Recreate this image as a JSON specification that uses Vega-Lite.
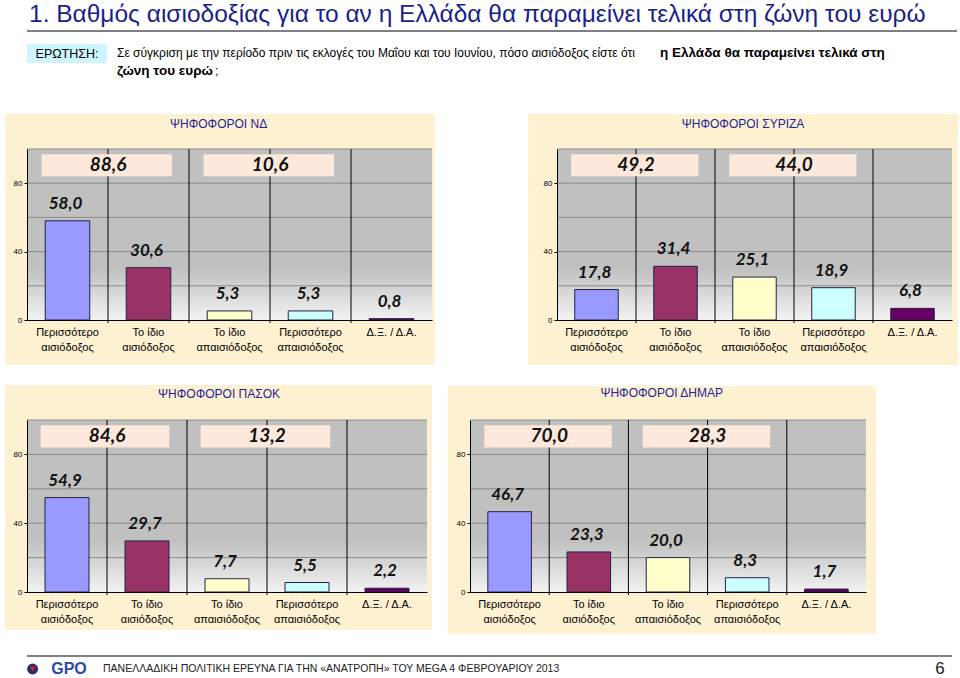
{
  "$schema": "https://vega.github.io/schema/vega-lite/v6.json",
  "padding": {"left": 5, "top": 1, "right": 0, "bottom": 0},
  "background": "white",
  "config": {"view": {"stroke": null}, "font": "Liberation Sans", "axisY": {"labelOverlap": false, "labelBound": false}},
  "datasets": {
    "bars": [
      {"panel": "ΝΔ", "cat": "Περισσότερο αισιόδοξος", "value": 58.0},
      {"panel": "ΝΔ", "cat": "Το ίδιο αισιόδοξος", "value": 30.6},
      {"panel": "ΝΔ", "cat": "Το ίδιο απαισιόδοξος", "value": 5.3},
      {"panel": "ΝΔ", "cat": "Περισσότερο απαισιόδοξος", "value": 5.3},
      {"panel": "ΝΔ", "cat": "Δ.Ξ. / Δ.Α.", "value": 0.8},
      {"panel": "ΣΥΡΙΖΑ", "cat": "Περισσότερο αισιόδοξος", "value": 17.8},
      {"panel": "ΣΥΡΙΖΑ", "cat": "Το ίδιο αισιόδοξος", "value": 31.4},
      {"panel": "ΣΥΡΙΖΑ", "cat": "Το ίδιο απαισιόδοξος", "value": 25.1},
      {"panel": "ΣΥΡΙΖΑ", "cat": "Περισσότερο απαισιόδοξος", "value": 18.9},
      {"panel": "ΣΥΡΙΖΑ", "cat": "Δ.Ξ. / Δ.Α.", "value": 6.8},
      {"panel": "ΠΑΣΟΚ", "cat": "Περισσότερο αισιόδοξος", "value": 54.9},
      {"panel": "ΠΑΣΟΚ", "cat": "Το ίδιο αισιόδοξος", "value": 29.7},
      {"panel": "ΠΑΣΟΚ", "cat": "Το ίδιο απαισιόδοξος", "value": 7.7},
      {"panel": "ΠΑΣΟΚ", "cat": "Περισσότερο απαισιόδοξος", "value": 5.5},
      {"panel": "ΠΑΣΟΚ", "cat": "Δ.Ξ. / Δ.Α.", "value": 2.2},
      {"panel": "ΔΗΜΑΡ", "cat": "Περισσότερο αισιόδοξος", "value": 46.7},
      {"panel": "ΔΗΜΑΡ", "cat": "Το ίδιο αισιόδοξος", "value": 23.3},
      {"panel": "ΔΗΜΑΡ", "cat": "Το ίδιο απαισιόδοξος", "value": 20.0},
      {"panel": "ΔΗΜΑΡ", "cat": "Περισσότερο απαισιόδοξος", "value": 8.3},
      {"panel": "ΔΗΜΑΡ", "cat": "Δ.Ξ. / Δ.Α.", "value": 1.7}
    ],
    "totals": [
      {"panel": "ΝΔ", "from": "Περισσότερο αισιόδοξος", "to": "Το ίδιο αισιόδοξος", "total": 88.6},
      {"panel": "ΝΔ", "from": "Το ίδιο απαισιόδοξος", "to": "Περισσότερο απαισιόδοξος", "total": 10.6},
      {"panel": "ΣΥΡΙΖΑ", "from": "Περισσότερο αισιόδοξος", "to": "Το ίδιο αισιόδοξος", "total": 49.2},
      {"panel": "ΣΥΡΙΖΑ", "from": "Το ίδιο απαισιόδοξος", "to": "Περισσότερο απαισιόδοξος", "total": 44.0},
      {"panel": "ΠΑΣΟΚ", "from": "Περισσότερο αισιόδοξος", "to": "Το ίδιο αισιόδοξος", "total": 84.6},
      {"panel": "ΠΑΣΟΚ", "from": "Το ίδιο απαισιόδοξος", "to": "Περισσότερο απαισιόδοξος", "total": 13.2},
      {"panel": "ΔΗΜΑΡ", "from": "Περισσότερο αισιόδοξος", "to": "Το ίδιο αισιόδοξος", "total": 70.0},
      {"panel": "ΔΗΜΑΡ", "from": "Το ίδιο απαισιόδοξος", "to": "Περισσότερο απαισιόδοξος", "total": 28.3}
    ],
    "grid": [{"tick": 20}, {"tick": 40}, {"tick": 60}, {"tick": 80}, {"tick": 100}]
  },
  "concat": [
    {
      "concat": [
        {
          "concat": [
            {
              "width": 930, "height": 1,
              "title": {"text": "1.  Βαθμός αισιοδοξίας για το αν η Ελλάδα θα παραμείνει τελικά στη ζώνη του ευρώ", "anchor": "start", "fontSize": 24.5, "fontWeight": "normal", "color": "#1a1f8c", "offset": 3, "dx": 3},
              "data": {"values": [{"rule": "underline"}]},
              "mark": {"type": "rule", "color": "#7f7f7f", "strokeWidth": 2},
              "encoding": {"y": {"datum": 0, "type": "quantitative", "scale": {"domain": [0, 1]}, "axis": null}}
            },
            {
              "hconcat": [
                {
                  "width": 80, "height": 19,
                  "layer": [
                    {"data": {"values": [{"label": "ΕΡΩΤΗΣΗ:"}]}, "mark": {"type": "rect", "fill": "#ccf5ff"},
                     "encoding": {"x": {"datum": 0, "type": "quantitative", "scale": {"domain": [0, 1]}, "axis": null}, "x2": {"datum": 1}, "y": {"datum": 0, "type": "quantitative", "scale": {"domain": [0, 1]}, "axis": null}, "y2": {"datum": 1}}},
                    {"data": {"values": [{"label": "ΕΡΩΤΗΣΗ:"}]}, "mark": {"type": "text", "fontSize": 12.5, "color": "#000", "baseline": "middle"},
                     "encoding": {"x": {"datum": 0.5, "type": "quantitative"}, "y": {"datum": 0.5, "type": "quantitative"}, "text": {"field": "label"}}}
                  ]
                },
                {
                  "width": 830, "height": 36,
                  "layer": [
                    {"data": {"values": [{"line": "1", "text": "Σε σύγκριση με την περίοδο πριν τις εκλογές του Μαΐου και του Ιουνίου, πόσο αισιόδοξος είστε ότι"}]},
                     "mark": {"type": "text", "align": "left", "baseline": "middle", "fontSize": 12, "color": "#000"},
                     "encoding": {"x": {"datum": 0, "type": "quantitative", "scale": {"domain": [0, 1]}, "axis": null}, "y": {"field": "line", "type": "ordinal", "scale": {"type": "point", "domain": ["1", "2"], "padding": 0.5}, "axis": null}, "text": {"field": "text"}}},
                    {"data": {"values": [{"line": "1", "text": "η Ελλάδα θα παραμείνει τελικά στη"}]},
                     "mark": {"type": "text", "align": "left", "baseline": "middle", "dx": 543, "fontSize": 13.5, "fontWeight": "bold", "color": "#000"},
                     "encoding": {"x": {"datum": 0, "type": "quantitative", "scale": {"domain": [0, 1]}, "axis": null}, "y": {"field": "line", "type": "ordinal", "scale": {"type": "point", "domain": ["1", "2"], "padding": 0.5}, "axis": null}, "text": {"field": "text"}}},
                    {"data": {"values": [{"line": "2", "text": "ζώνη του ευρώ"}]},
                     "mark": {"type": "text", "align": "left", "baseline": "middle", "fontSize": 13.5, "fontWeight": "bold", "color": "#000"},
                     "encoding": {"x": {"datum": 0, "type": "quantitative", "scale": {"domain": [0, 1]}, "axis": null}, "y": {"field": "line", "type": "ordinal", "scale": {"type": "point", "domain": ["1", "2"], "padding": 0.5}, "axis": null}, "text": {"field": "text"}}},
                    {"data": {"values": [{"line": "2", "text": ";"}]},
                     "mark": {"type": "text", "align": "left", "baseline": "middle", "dx": 98, "fontSize": 12, "color": "#000"},
                     "encoding": {"x": {"datum": 0, "type": "quantitative", "scale": {"domain": [0, 1]}, "axis": null}, "y": {"field": "line", "type": "ordinal", "scale": {"type": "point", "domain": ["1", "2"], "padding": 0.5}, "axis": null}, "text": {"field": "text"}}}
                  ]
                }
              ],
              "spacing": 10
            }
          ],
          "columns": 1, "align": "none", "spacing": 12
        },
        {
          "vconcat": [
            {
              "hconcat": [
                {
                  "width": 405, "height": 171,
                  "resolve": {"scale": {"x": "independent"}},
                  "layer": [
                    {"data": {"values": [{"panel": "ΝΔ"}]}, "mark": {"type": "rect", "fill": "#fef1d2", "clip": false},
                     "encoding": {"x": {"datum": -5.4, "type": "quantitative", "scale": {"domain": [0, 100]}, "axis": null}, "x2": {"datum": 100.7}, "y": {"datum": -26.3, "type": "quantitative", "scale": {"domain": [0, 100]}, "title": null}, "y2": {"datum": 120.5}}},
                    {"data": {"values": [{"panel": "ΝΔ"}]}, "mark": {"type": "rect", "fill": {"gradient": "linear", "x1": 0, "y1": 0, "x2": 0, "y2": 1, "stops": [{"offset": 0, "color": "#c0c0c0"}, {"offset": 0.7, "color": "#c0c0c0"}, {"offset": 1, "color": "#f2f2f2"}]}},
                     "encoding": {"x": {"datum": 0, "type": "quantitative", "scale": {"domain": [0, 100]}, "axis": null}, "x2": {"datum": 100}, "y": {"datum": 0, "type": "quantitative", "title": null}, "y2": {"datum": 100}}},
                    {"data": {"name": "grid"}, "mark": {"type": "rule", "color": "#8a8a8a", "strokeWidth": 1},
                     "encoding": {"y": {"field": "tick", "type": "quantitative", "title": null}}},
                    {"data": {"name": "bars"}, "transform": [{"filter": "datum.panel === 'ΝΔ' && datum.cat !== 'Περισσότερο αισιόδοξος'"}], "mark": {"type": "rule", "color": "#000", "strokeWidth": 1, "clip": false},
                     "encoding": {"x": {"field": "cat", "type": "nominal", "bandPosition": -0.409, "axis": null, "scale": {"domain": ["Περισσότερο αισιόδοξος", "Το ίδιο αισιόδοξος", "Το ίδιο απαισιόδοξος", "Περισσότερο απαισιόδοξος", "Δ.Ξ. / Δ.Α."], "paddingInner": 0.45, "paddingOuter": 0.225}}, "y": {"datum": -1.8, "type": "quantitative", "title": null}, "y2": {"datum": 100}}},
                    {"data": {"values": [{"panel": "ΝΔ"}]}, "mark": {"type": "rect", "fill": "#fde9db"},
                     "encoding": {"x": {"datum": 3.6, "type": "quantitative", "scale": {"domain": [0, 100]}, "axis": null}, "x2": {"datum": 35.8}, "y": {"datum": 84, "type": "quantitative", "title": null}, "y2": {"datum": 97}}},
                    {"data": {"values": [{"panel": "ΝΔ"}]}, "mark": {"type": "rect", "fill": "#fde9db"},
                     "encoding": {"x": {"datum": 43.6, "type": "quantitative", "scale": {"domain": [0, 100]}, "axis": null}, "x2": {"datum": 75.8}, "y": {"datum": 84, "type": "quantitative", "title": null}, "y2": {"datum": 97}}},
                    {"data": {"name": "totals"}, "transform": [{"filter": "datum.panel === 'ΝΔ' && datum.from === 'Περισσότερο αισιόδοξος'"}, {"calculate": "replace(format(datum.total, '.1f'), '.', ',')", "as": "label"}],
                     "mark": {"type": "text", "font": "Lato", "fontSize": 19, "fontWeight": "bold", "fontStyle": "italic", "baseline": "middle", "color": "#111"},
                     "encoding": {"x": {"datum": 20, "type": "quantitative", "scale": {"domain": [0, 100]}, "axis": null}, "y": {"datum": 90.5, "type": "quantitative", "title": null}, "text": {"field": "label"}}},
                    {"data": {"name": "totals"}, "transform": [{"filter": "datum.panel === 'ΝΔ' && datum.from === 'Το ίδιο απαισιόδοξος'"}, {"calculate": "replace(format(datum.total, '.1f'), '.', ',')", "as": "label"}],
                     "mark": {"type": "text", "font": "Lato", "fontSize": 19, "fontWeight": "bold", "fontStyle": "italic", "baseline": "middle", "color": "#111"},
                     "encoding": {"x": {"datum": 60, "type": "quantitative", "scale": {"domain": [0, 100]}, "axis": null}, "y": {"datum": 90.5, "type": "quantitative", "title": null}, "text": {"field": "label"}}},
                    {"data": {"values": [{"title": "ΨΗΦΟΦΟΡΟΙ ΝΔ"}]}, "mark": {"type": "text", "fontSize": 12, "color": "#1e1e96", "baseline": "middle"},
                     "encoding": {"x": {"datum": 47.3, "type": "quantitative", "scale": {"domain": [0, 100]}, "axis": null}, "y": {"datum": 114.7, "type": "quantitative", "title": null}, "text": {"field": "title"}}},
                    {
                      "layer": [
                        {"data": {"name": "bars"}, "transform": [{"filter": "datum.panel === 'ΝΔ'"}], "mark": {"type": "bar", "stroke": "#222244", "strokeWidth": 1},
                         "encoding": {
                           "x": {"field": "cat", "type": "nominal", "title": null, "scale": {"domain": ["Περισσότερο αισιόδοξος", "Το ίδιο αισιόδοξος", "Το ίδιο απαισιόδοξος", "Περισσότερο απαισιόδοξος", "Δ.Ξ. / Δ.Α."], "paddingInner": 0.45, "paddingOuter": 0.225},
                                 "axis": {"labelAngle": 0, "labelFontSize": 11, "labelColor": "#000", "labelLineHeight": 15, "labelPadding": 6, "ticks": false, "tickSize": 0, "domainColor": "#000", "labelOverlap": false, "zindex": 1,
                                          "labelExpr": "datum.value == 'Δ.Ξ. / Δ.Α.' ? datum.value : [substring(datum.value, 0, lastindexof(datum.value, ' ')), substring(datum.value, lastindexof(datum.value, ' ') + 1)]"}},
                           "y": {"field": "value", "type": "quantitative", "scale": {"domain": [0, 100]}, "title": null,
                                 "axis": {"values": [0, 20, 40, 60, 80, 100], "labelFontSize": 8, "labelColor": "#000", "tickSize": 3, "tickColor": "#000", "labelPadding": 2, "domainColor": "#000", "grid": false, "labelOverlap": false, "zindex": 1}},
                           "color": {"field": "cat", "type": "nominal", "scale": {"domain": ["Περισσότερο αισιόδοξος", "Το ίδιο αισιόδοξος", "Το ίδιο απαισιόδοξος", "Περισσότερο απαισιόδοξος", "Δ.Ξ. / Δ.Α."], "range": ["#9999ff", "#993366", "#ffffcc", "#ccffff", "#660066"]}, "legend": null}
                         }},
                        {"data": {"name": "bars"}, "transform": [{"filter": "datum.panel === 'ΝΔ'"}, {"calculate": "replace(format(datum.value, '.1f'), '.', ',')", "as": "label"}],
                         "mark": {"type": "text", "font": "Lato", "fontSize": 17, "fontWeight": "bold", "fontStyle": "italic", "baseline": "alphabetic", "dy": -12, "dx": -2, "color": "#111"},
                         "encoding": {"x": {"field": "cat", "type": "nominal", "title": null}, "y": {"field": "value", "type": "quantitative", "title": null}, "text": {"field": "label"}}}
                      ]
                    }
                  ]
                },
                {
                  "width": 395, "height": 171,
                  "resolve": {"scale": {"x": "independent"}},
                  "layer": [
                    {"data": {"values": [{"panel": "ΣΥΡΙΖΑ"}]}, "mark": {"type": "rect", "fill": "#fef1d2", "clip": false},
                     "encoding": {"x": {"datum": -7.3, "type": "quantitative", "scale": {"domain": [0, 100]}, "axis": null}, "x2": {"datum": 101.5}, "y": {"datum": -26.3, "type": "quantitative", "scale": {"domain": [0, 100]}, "title": null}, "y2": {"datum": 120.5}}},
                    {"data": {"values": [{"panel": "ΣΥΡΙΖΑ"}]}, "mark": {"type": "rect", "fill": {"gradient": "linear", "x1": 0, "y1": 0, "x2": 0, "y2": 1, "stops": [{"offset": 0, "color": "#c0c0c0"}, {"offset": 0.7, "color": "#c0c0c0"}, {"offset": 1, "color": "#f2f2f2"}]}},
                     "encoding": {"x": {"datum": 0, "type": "quantitative", "scale": {"domain": [0, 100]}, "axis": null}, "x2": {"datum": 100}, "y": {"datum": 0, "type": "quantitative", "title": null}, "y2": {"datum": 100}}},
                    {"data": {"name": "grid"}, "mark": {"type": "rule", "color": "#8a8a8a", "strokeWidth": 1},
                     "encoding": {"y": {"field": "tick", "type": "quantitative", "title": null}}},
                    {"data": {"name": "bars"}, "transform": [{"filter": "datum.panel === 'ΣΥΡΙΖΑ' && datum.cat !== 'Περισσότερο αισιόδοξος'"}], "mark": {"type": "rule", "color": "#000", "strokeWidth": 1, "clip": false},
                     "encoding": {"x": {"field": "cat", "type": "nominal", "bandPosition": -0.409, "axis": null, "scale": {"domain": ["Περισσότερο αισιόδοξος", "Το ίδιο αισιόδοξος", "Το ίδιο απαισιόδοξος", "Περισσότερο απαισιόδοξος", "Δ.Ξ. / Δ.Α."], "paddingInner": 0.45, "paddingOuter": 0.225}}, "y": {"datum": -1.8, "type": "quantitative", "title": null}, "y2": {"datum": 100}}},
                    {"data": {"values": [{"panel": "ΣΥΡΙΖΑ"}]}, "mark": {"type": "rect", "fill": "#fde9db"},
                     "encoding": {"x": {"datum": 3.6, "type": "quantitative", "scale": {"domain": [0, 100]}, "axis": null}, "x2": {"datum": 35.8}, "y": {"datum": 84, "type": "quantitative", "title": null}, "y2": {"datum": 97}}},
                    {"data": {"values": [{"panel": "ΣΥΡΙΖΑ"}]}, "mark": {"type": "rect", "fill": "#fde9db"},
                     "encoding": {"x": {"datum": 43.6, "type": "quantitative", "scale": {"domain": [0, 100]}, "axis": null}, "x2": {"datum": 75.8}, "y": {"datum": 84, "type": "quantitative", "title": null}, "y2": {"datum": 97}}},
                    {"data": {"name": "totals"}, "transform": [{"filter": "datum.panel === 'ΣΥΡΙΖΑ' && datum.from === 'Περισσότερο αισιόδοξος'"}, {"calculate": "replace(format(datum.total, '.1f'), '.', ',')", "as": "label"}],
                     "mark": {"type": "text", "font": "Lato", "fontSize": 19, "fontWeight": "bold", "fontStyle": "italic", "baseline": "middle", "color": "#111"},
                     "encoding": {"x": {"datum": 20, "type": "quantitative", "scale": {"domain": [0, 100]}, "axis": null}, "y": {"datum": 90.5, "type": "quantitative", "title": null}, "text": {"field": "label"}}},
                    {"data": {"name": "totals"}, "transform": [{"filter": "datum.panel === 'ΣΥΡΙΖΑ' && datum.from === 'Το ίδιο απαισιόδοξος'"}, {"calculate": "replace(format(datum.total, '.1f'), '.', ',')", "as": "label"}],
                     "mark": {"type": "text", "font": "Lato", "fontSize": 19, "fontWeight": "bold", "fontStyle": "italic", "baseline": "middle", "color": "#111"},
                     "encoding": {"x": {"datum": 60, "type": "quantitative", "scale": {"domain": [0, 100]}, "axis": null}, "y": {"datum": 90.5, "type": "quantitative", "title": null}, "text": {"field": "label"}}},
                    {"data": {"values": [{"title": "ΨΗΦΟΦΟΡΟΙ ΣΥΡΙΖΑ"}]}, "mark": {"type": "text", "fontSize": 12, "color": "#1e1e96", "baseline": "middle"},
                     "encoding": {"x": {"datum": 47.1, "type": "quantitative", "scale": {"domain": [0, 100]}, "axis": null}, "y": {"datum": 114.7, "type": "quantitative", "title": null}, "text": {"field": "title"}}},
                    {
                      "layer": [
                        {"data": {"name": "bars"}, "transform": [{"filter": "datum.panel === 'ΣΥΡΙΖΑ'"}], "mark": {"type": "bar", "stroke": "#222244", "strokeWidth": 1},
                         "encoding": {
                           "x": {"field": "cat", "type": "nominal", "title": null, "scale": {"domain": ["Περισσότερο αισιόδοξος", "Το ίδιο αισιόδοξος", "Το ίδιο απαισιόδοξος", "Περισσότερο απαισιόδοξος", "Δ.Ξ. / Δ.Α."], "paddingInner": 0.45, "paddingOuter": 0.225},
                                 "axis": {"labelAngle": 0, "labelFontSize": 11, "labelColor": "#000", "labelLineHeight": 15, "labelPadding": 6, "ticks": false, "tickSize": 0, "domainColor": "#000", "labelOverlap": false, "zindex": 1,
                                          "labelExpr": "datum.value == 'Δ.Ξ. / Δ.Α.' ? datum.value : [substring(datum.value, 0, lastindexof(datum.value, ' ')), substring(datum.value, lastindexof(datum.value, ' ') + 1)]"}},
                           "y": {"field": "value", "type": "quantitative", "scale": {"domain": [0, 100]}, "title": null,
                                 "axis": {"values": [0, 20, 40, 60, 80, 100], "labelFontSize": 8, "labelColor": "#000", "tickSize": 3, "tickColor": "#000", "labelPadding": 2, "domainColor": "#000", "grid": false, "labelOverlap": false, "zindex": 1}},
                           "color": {"field": "cat", "type": "nominal", "scale": {"domain": ["Περισσότερο αισιόδοξος", "Το ίδιο αισιόδοξος", "Το ίδιο απαισιόδοξος", "Περισσότερο απαισιόδοξος", "Δ.Ξ. / Δ.Α."], "range": ["#9999ff", "#993366", "#ffffcc", "#ccffff", "#660066"]}, "legend": null}
                         }},
                        {"data": {"name": "bars"}, "transform": [{"filter": "datum.panel === 'ΣΥΡΙΖΑ'"}, {"calculate": "replace(format(datum.value, '.1f'), '.', ',')", "as": "label"}],
                         "mark": {"type": "text", "font": "Lato", "fontSize": 17, "fontWeight": "bold", "fontStyle": "italic", "baseline": "alphabetic", "dy": -12, "dx": -2, "color": "#111"},
                         "encoding": {"x": {"field": "cat", "type": "nominal", "title": null}, "y": {"field": "value", "type": "quantitative", "title": null}, "text": {"field": "label"}}}
                      ]
                    }
                  ]
                }
              ],
              "spacing": 93
            },
            {
              "hconcat": [
                {
                  "width": 400, "height": 172,
                  "resolve": {"scale": {"x": "independent"}},
                  "layer": [
                    {"data": {"values": [{"panel": "ΠΑΣΟΚ"}]}, "mark": {"type": "rect", "fill": "#fef1d2", "clip": false},
                     "encoding": {"x": {"datum": -5.5, "type": "quantitative", "scale": {"domain": [0, 100]}, "axis": null}, "x2": {"datum": 101.25}, "y": {"datum": -22.1, "type": "quantitative", "scale": {"domain": [0, 100]}, "title": null}, "y2": {"datum": 120.3}}},
                    {"data": {"values": [{"panel": "ΠΑΣΟΚ"}]}, "mark": {"type": "rect", "fill": {"gradient": "linear", "x1": 0, "y1": 0, "x2": 0, "y2": 1, "stops": [{"offset": 0, "color": "#c0c0c0"}, {"offset": 0.7, "color": "#c0c0c0"}, {"offset": 1, "color": "#f2f2f2"}]}},
                     "encoding": {"x": {"datum": 0, "type": "quantitative", "scale": {"domain": [0, 100]}, "axis": null}, "x2": {"datum": 100}, "y": {"datum": 0, "type": "quantitative", "title": null}, "y2": {"datum": 100}}},
                    {"data": {"name": "grid"}, "mark": {"type": "rule", "color": "#8a8a8a", "strokeWidth": 1},
                     "encoding": {"y": {"field": "tick", "type": "quantitative", "title": null}}},
                    {"data": {"name": "bars"}, "transform": [{"filter": "datum.panel === 'ΠΑΣΟΚ' && datum.cat !== 'Περισσότερο αισιόδοξος'"}], "mark": {"type": "rule", "color": "#000", "strokeWidth": 1, "clip": false},
                     "encoding": {"x": {"field": "cat", "type": "nominal", "bandPosition": -0.409, "axis": null, "scale": {"domain": ["Περισσότερο αισιόδοξος", "Το ίδιο αισιόδοξος", "Το ίδιο απαισιόδοξος", "Περισσότερο απαισιόδοξος", "Δ.Ξ. / Δ.Α."], "paddingInner": 0.45, "paddingOuter": 0.225}}, "y": {"datum": -1.8, "type": "quantitative", "title": null}, "y2": {"datum": 100}}},
                    {"data": {"values": [{"panel": "ΠΑΣΟΚ"}]}, "mark": {"type": "rect", "fill": "#fde9db"},
                     "encoding": {"x": {"datum": 3.4, "type": "quantitative", "scale": {"domain": [0, 100]}, "axis": null}, "x2": {"datum": 35.6}, "y": {"datum": 84, "type": "quantitative", "title": null}, "y2": {"datum": 97}}},
                    {"data": {"values": [{"panel": "ΠΑΣΟΚ"}]}, "mark": {"type": "rect", "fill": "#fde9db"},
                     "encoding": {"x": {"datum": 43.4, "type": "quantitative", "scale": {"domain": [0, 100]}, "axis": null}, "x2": {"datum": 75.8}, "y": {"datum": 84, "type": "quantitative", "title": null}, "y2": {"datum": 97}}},
                    {"data": {"name": "totals"}, "transform": [{"filter": "datum.panel === 'ΠΑΣΟΚ' && datum.from === 'Περισσότερο αισιόδοξος'"}, {"calculate": "replace(format(datum.total, '.1f'), '.', ',')", "as": "label"}],
                     "mark": {"type": "text", "font": "Lato", "fontSize": 19, "fontWeight": "bold", "fontStyle": "italic", "baseline": "middle", "color": "#111"},
                     "encoding": {"x": {"datum": 20, "type": "quantitative", "scale": {"domain": [0, 100]}, "axis": null}, "y": {"datum": 90.5, "type": "quantitative", "title": null}, "text": {"field": "label"}}},
                    {"data": {"name": "totals"}, "transform": [{"filter": "datum.panel === 'ΠΑΣΟΚ' && datum.from === 'Το ίδιο απαισιόδοξος'"}, {"calculate": "replace(format(datum.total, '.1f'), '.', ',')", "as": "label"}],
                     "mark": {"type": "text", "font": "Lato", "fontSize": 19, "fontWeight": "bold", "fontStyle": "italic", "baseline": "middle", "color": "#111"},
                     "encoding": {"x": {"datum": 60, "type": "quantitative", "scale": {"domain": [0, 100]}, "axis": null}, "y": {"datum": 90.5, "type": "quantitative", "title": null}, "text": {"field": "label"}}},
                    {"data": {"values": [{"title": "ΨΗΦΟΦΟΡΟΙ ΠΑΣΟΚ"}]}, "mark": {"type": "text", "fontSize": 12, "color": "#1e1e96", "baseline": "middle"},
                     "encoding": {"x": {"datum": 48, "type": "quantitative", "scale": {"domain": [0, 100]}, "axis": null}, "y": {"datum": 115, "type": "quantitative", "title": null}, "text": {"field": "title"}}},
                    {
                      "layer": [
                        {"data": {"name": "bars"}, "transform": [{"filter": "datum.panel === 'ΠΑΣΟΚ'"}], "mark": {"type": "bar", "stroke": "#222244", "strokeWidth": 1},
                         "encoding": {
                           "x": {"field": "cat", "type": "nominal", "title": null, "scale": {"domain": ["Περισσότερο αισιόδοξος", "Το ίδιο αισιόδοξος", "Το ίδιο απαισιόδοξος", "Περισσότερο απαισιόδοξος", "Δ.Ξ. / Δ.Α."], "paddingInner": 0.45, "paddingOuter": 0.225},
                                 "axis": {"labelAngle": 0, "labelFontSize": 11, "labelColor": "#000", "labelLineHeight": 15, "labelPadding": 6, "ticks": false, "tickSize": 0, "domainColor": "#000", "labelOverlap": false, "zindex": 1,
                                          "labelExpr": "datum.value == 'Δ.Ξ. / Δ.Α.' ? datum.value : [substring(datum.value, 0, lastindexof(datum.value, ' ')), substring(datum.value, lastindexof(datum.value, ' ') + 1)]"}},
                           "y": {"field": "value", "type": "quantitative", "scale": {"domain": [0, 100]}, "title": null,
                                 "axis": {"values": [0, 20, 40, 60, 80, 100], "labelFontSize": 8, "labelColor": "#000", "tickSize": 3, "tickColor": "#000", "labelPadding": 2, "domainColor": "#000", "grid": false, "labelOverlap": false, "zindex": 1}},
                           "color": {"field": "cat", "type": "nominal", "scale": {"domain": ["Περισσότερο αισιόδοξος", "Το ίδιο αισιόδοξος", "Το ίδιο απαισιόδοξος", "Περισσότερο απαισιόδοξος", "Δ.Ξ. / Δ.Α."], "range": ["#9999ff", "#993366", "#ffffcc", "#ccffff", "#660066"]}, "legend": null}
                         }},
                        {"data": {"name": "bars"}, "transform": [{"filter": "datum.panel === 'ΠΑΣΟΚ'"}, {"calculate": "replace(format(datum.value, '.1f'), '.', ',')", "as": "label"}],
                         "mark": {"type": "text", "font": "Lato", "fontSize": 17, "fontWeight": "bold", "fontStyle": "italic", "baseline": "alphabetic", "dy": -12, "dx": -2, "color": "#111"},
                         "encoding": {"x": {"field": "cat", "type": "nominal", "title": null}, "y": {"field": "value", "type": "quantitative", "title": null}, "text": {"field": "label"}}}
                      ]
                    }
                  ]
                },
                {
                  "width": 396, "height": 172,
                  "resolve": {"scale": {"x": "independent"}},
                  "layer": [
                    {"data": {"values": [{"panel": "ΔΗΜΑΡ"}]}, "mark": {"type": "rect", "fill": "#fef1d2", "clip": false},
                     "encoding": {"x": {"datum": -5.6, "type": "quantitative", "scale": {"domain": [0, 100]}, "axis": null}, "x2": {"datum": 102.5}, "y": {"datum": -24.4, "type": "quantitative", "scale": {"domain": [0, 100]}, "title": null}, "y2": {"datum": 119.8}}},
                    {"data": {"values": [{"panel": "ΔΗΜΑΡ"}]}, "mark": {"type": "rect", "fill": {"gradient": "linear", "x1": 0, "y1": 0, "x2": 0, "y2": 1, "stops": [{"offset": 0, "color": "#c0c0c0"}, {"offset": 0.7, "color": "#c0c0c0"}, {"offset": 1, "color": "#f2f2f2"}]}},
                     "encoding": {"x": {"datum": 0, "type": "quantitative", "scale": {"domain": [0, 100]}, "axis": null}, "x2": {"datum": 100}, "y": {"datum": 0, "type": "quantitative", "title": null}, "y2": {"datum": 100}}},
                    {"data": {"name": "grid"}, "mark": {"type": "rule", "color": "#8a8a8a", "strokeWidth": 1},
                     "encoding": {"y": {"field": "tick", "type": "quantitative", "title": null}}},
                    {"data": {"name": "bars"}, "transform": [{"filter": "datum.panel === 'ΔΗΜΑΡ' && datum.cat !== 'Περισσότερο αισιόδοξος'"}], "mark": {"type": "rule", "color": "#000", "strokeWidth": 1, "clip": false},
                     "encoding": {"x": {"field": "cat", "type": "nominal", "bandPosition": -0.409, "axis": null, "scale": {"domain": ["Περισσότερο αισιόδοξος", "Το ίδιο αισιόδοξος", "Το ίδιο απαισιόδοξος", "Περισσότερο απαισιόδοξος", "Δ.Ξ. / Δ.Α."], "paddingInner": 0.45, "paddingOuter": 0.225}}, "y": {"datum": -1.8, "type": "quantitative", "title": null}, "y2": {"datum": 100}}},
                    {"data": {"values": [{"panel": "ΔΗΜΑΡ"}]}, "mark": {"type": "rect", "fill": "#fde9db"},
                     "encoding": {"x": {"datum": 3.6, "type": "quantitative", "scale": {"domain": [0, 100]}, "axis": null}, "x2": {"datum": 35.8}, "y": {"datum": 84, "type": "quantitative", "title": null}, "y2": {"datum": 97}}},
                    {"data": {"values": [{"panel": "ΔΗΜΑΡ"}]}, "mark": {"type": "rect", "fill": "#fde9db"},
                     "encoding": {"x": {"datum": 43.6, "type": "quantitative", "scale": {"domain": [0, 100]}, "axis": null}, "x2": {"datum": 75.8}, "y": {"datum": 84, "type": "quantitative", "title": null}, "y2": {"datum": 97}}},
                    {"data": {"name": "totals"}, "transform": [{"filter": "datum.panel === 'ΔΗΜΑΡ' && datum.from === 'Περισσότερο αισιόδοξος'"}, {"calculate": "replace(format(datum.total, '.1f'), '.', ',')", "as": "label"}],
                     "mark": {"type": "text", "font": "Lato", "fontSize": 19, "fontWeight": "bold", "fontStyle": "italic", "baseline": "middle", "color": "#111"},
                     "encoding": {"x": {"datum": 20, "type": "quantitative", "scale": {"domain": [0, 100]}, "axis": null}, "y": {"datum": 90.5, "type": "quantitative", "title": null}, "text": {"field": "label"}}},
                    {"data": {"name": "totals"}, "transform": [{"filter": "datum.panel === 'ΔΗΜΑΡ' && datum.from === 'Το ίδιο απαισιόδοξος'"}, {"calculate": "replace(format(datum.total, '.1f'), '.', ',')", "as": "label"}],
                     "mark": {"type": "text", "font": "Lato", "fontSize": 19, "fontWeight": "bold", "fontStyle": "italic", "baseline": "middle", "color": "#111"},
                     "encoding": {"x": {"datum": 60, "type": "quantitative", "scale": {"domain": [0, 100]}, "axis": null}, "y": {"datum": 90.5, "type": "quantitative", "title": null}, "text": {"field": "label"}}},
                    {"data": {"values": [{"title": "ΨΗΦΟΦΟΡΟΙ ΔΗΜΑΡ"}]}, "mark": {"type": "text", "fontSize": 12, "color": "#1e1e96", "baseline": "middle"},
                     "encoding": {"x": {"datum": 48.4, "type": "quantitative", "scale": {"domain": [0, 100]}, "axis": null}, "y": {"datum": 115.5, "type": "quantitative", "title": null}, "text": {"field": "title"}}},
                    {
                      "layer": [
                        {"data": {"name": "bars"}, "transform": [{"filter": "datum.panel === 'ΔΗΜΑΡ'"}], "mark": {"type": "bar", "stroke": "#222244", "strokeWidth": 1},
                         "encoding": {
                           "x": {"field": "cat", "type": "nominal", "title": null, "scale": {"domain": ["Περισσότερο αισιόδοξος", "Το ίδιο αισιόδοξος", "Το ίδιο απαισιόδοξος", "Περισσότερο απαισιόδοξος", "Δ.Ξ. / Δ.Α."], "paddingInner": 0.45, "paddingOuter": 0.225},
                                 "axis": {"labelAngle": 0, "labelFontSize": 11, "labelColor": "#000", "labelLineHeight": 15, "labelPadding": 6, "ticks": false, "tickSize": 0, "domainColor": "#000", "labelOverlap": false, "zindex": 1,
                                          "labelExpr": "datum.value == 'Δ.Ξ. / Δ.Α.' ? datum.value : [substring(datum.value, 0, lastindexof(datum.value, ' ')), substring(datum.value, lastindexof(datum.value, ' ') + 1)]"}},
                           "y": {"field": "value", "type": "quantitative", "scale": {"domain": [0, 100]}, "title": null,
                                 "axis": {"values": [0, 20, 40, 60, 80, 100], "labelFontSize": 8, "labelColor": "#000", "tickSize": 3, "tickColor": "#000", "labelPadding": 2, "domainColor": "#000", "grid": false, "labelOverlap": false, "zindex": 1}},
                           "color": {"field": "cat", "type": "nominal", "scale": {"domain": ["Περισσότερο αισιόδοξος", "Το ίδιο αισιόδοξος", "Το ίδιο απαισιόδοξος", "Περισσότερο απαισιόδοξος", "Δ.Ξ. / Δ.Α."], "range": ["#9999ff", "#993366", "#ffffcc", "#ccffff", "#660066"]}, "legend": null}
                         }},
                        {"data": {"name": "bars"}, "transform": [{"filter": "datum.panel === 'ΔΗΜΑΡ'"}, {"calculate": "replace(format(datum.value, '.1f'), '.', ',')", "as": "label"}],
                         "mark": {"type": "text", "font": "Lato", "fontSize": 17, "fontWeight": "bold", "fontStyle": "italic", "baseline": "alphabetic", "dy": -12, "dx": -2, "color": "#111"},
                         "encoding": {"x": {"field": "cat", "type": "nominal", "title": null}, "y": {"field": "value", "type": "quantitative", "title": null}, "text": {"field": "label"}}}
                      ]
                    }
                  ]
                }
              ],
              "spacing": 15
            }
          ],
          "spacing": 20
        }
      ],
      "columns": 1, "align": "none", "spacing": 33
    },
    {
      "concat": [
        {
          "width": 925, "height": 1,
          "data": {"values": [{"rule": "footer"}]},
          "mark": {"type": "rule", "color": "#808080", "strokeWidth": 2},
          "encoding": {"y": {"datum": 0, "type": "quantitative", "scale": {"domain": [0, 1]}, "axis": null}}
        },
        {
          "hconcat": [
            {
              "width": 70, "height": 14,
              "layer": [
                {"data": {"values": [{"pos": 0.08}]}, "mark": {"type": "point", "shape": "circle", "filled": true, "size": 120, "color": "#1f2f6f", "opacity": 1},
                 "encoding": {"x": {"field": "pos", "type": "quantitative", "scale": {"domain": [0, 1]}, "axis": null}}},
                {"data": {"values": [{"pos": 0.08}]}, "mark": {"type": "point", "shape": "triangle-down", "filled": true, "size": 35, "color": "#e02020", "opacity": 1},
                 "encoding": {"x": {"field": "pos", "type": "quantitative", "scale": {"domain": [0, 1]}, "axis": null}}},
                {"data": {"values": [{"pos": 0.6, "logo": "GPO"}]}, "mark": {"type": "text", "fontSize": 16, "fontWeight": "bold", "color": "#2a4ba8"},
                 "encoding": {"x": {"field": "pos", "type": "quantitative", "scale": {"domain": [0, 1]}, "axis": null}, "text": {"field": "logo"}}}
              ]
            },
            {
              "width": 825, "height": 14,
              "data": {"values": [{"source": "ΠΑΝΕΛΛΑΔΙΚΗ ΠΟΛΙΤΙΚΗ ΕΡΕΥΝΑ ΓΙΑ ΤΗΝ «ΑΝΑΤΡΟΠΗ» ΤΟΥ MEGA  4  ΦΕΒΡΟΥΑΡΙΟΥ  2013"}]},
              "mark": {"type": "text", "align": "left", "baseline": "middle", "fontSize": 10.5, "color": "#222"},
              "encoding": {"x": {"datum": 0, "type": "quantitative", "scale": {"domain": [0, 1]}, "axis": null}, "text": {"field": "source"}}
            },
            {
              "width": 12, "height": 14,
              "data": {"values": [{"page": "6"}]},
              "mark": {"type": "text", "baseline": "middle", "fontSize": 17, "color": "#222"},
              "encoding": {"text": {"field": "page"}}
            }
          ],
          "spacing": 6
        }
      ],
      "columns": 1, "align": "none", "spacing": 3
    }
  ],
  "columns": 1, "align": "none", "spacing": 21
}
